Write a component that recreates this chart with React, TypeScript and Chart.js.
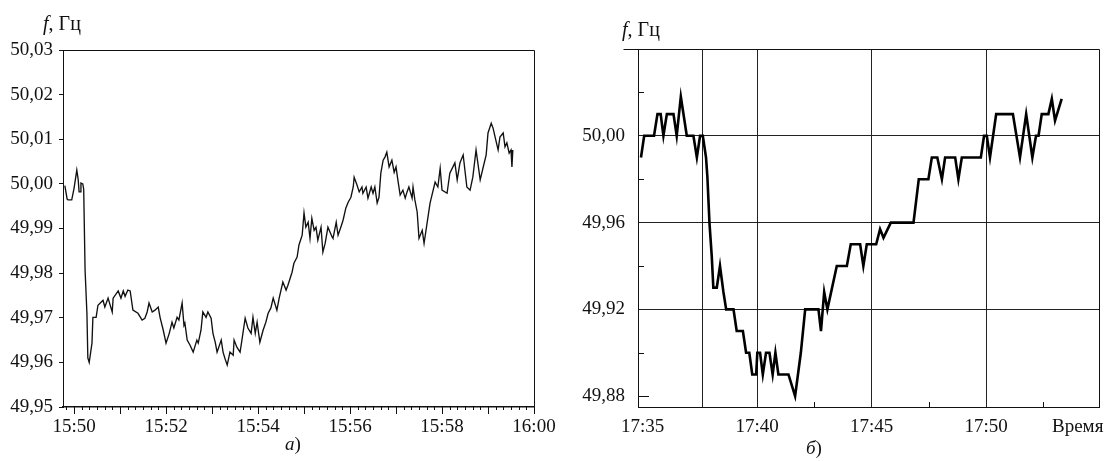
import React, { useEffect, useRef } from "react";
import { Chart, registerables } from "chart.js";

Chart.register(...registerables);

// ---------- Chart (а): minutes after 15:50, frequency in Hz ----------
const leftStartHour = 15;
const leftStartMinute = 50;
const leftTime = [
  -0.2, -0.15, -0.13, -0.05, 0.0, 0.06, 0.09, 0.11, 0.13, 0.15,
  0.19, 0.21, 0.24, 0.28, 0.3, 0.33, 0.39, 0.41, 0.48, 0.52,
  0.57, 0.63, 0.67, 0.74, 0.83, 0.85, 0.96, 1.02, 1.07, 1.11,
  1.17, 1.22, 1.28, 1.39, 1.48, 1.54, 1.59, 1.63, 1.7, 1.76,
  1.83, 1.87, 1.94, 2.0, 2.07, 2.13, 2.17, 2.24, 2.28, 2.35,
  2.39, 2.41, 2.46, 2.52, 2.59, 2.67, 2.7, 2.76, 2.8, 2.87,
  2.91, 2.98, 3.02, 3.07, 3.11, 3.2, 3.24, 3.28, 3.33, 3.39,
  3.46, 3.48, 3.54, 3.61, 3.65, 3.72, 3.78, 3.85, 3.89, 3.94,
  3.98, 4.04, 4.11, 4.17, 4.22, 4.28, 4.33, 4.41, 4.46, 4.54,
  4.61, 4.65, 4.74, 4.78, 4.85, 4.89, 4.96, 5.0, 5.04, 5.09,
  5.13, 5.17, 5.22, 5.26, 5.3, 5.37, 5.41, 5.46, 5.52, 5.61,
  5.63, 5.7, 5.74, 5.8, 5.85, 5.91, 5.96, 6.02, 6.07, 6.09,
  6.15, 6.2, 6.26, 6.28, 6.35, 6.39, 6.46, 6.5, 6.54, 6.59,
  6.63, 6.67, 6.72, 6.76, 6.8, 6.85, 6.91, 6.96, 7.0, 7.04,
  7.09, 7.15, 7.2, 7.24, 7.28, 7.35, 7.37, 7.41, 7.46, 7.5,
  7.57, 7.61, 7.63, 7.74, 7.85, 7.91, 7.96, 8.0, 8.11, 8.17,
  8.28, 8.33, 8.39, 8.46, 8.54, 8.61, 8.67, 8.74, 8.83, 8.89,
  8.96, 9.0, 9.07, 9.11, 9.17, 9.22, 9.26, 9.33, 9.37, 9.41,
  9.46, 9.5, 9.52, 9.54,
];
const leftFreq = [
  49.9996, 49.9966, 49.9964, 49.9964, 49.999, 50.0031, 50.001, 49.9982, 49.9982, 50.0002,
  50.0, 49.9988, 49.9807, 49.971, 49.961, 49.96, 49.9643, 49.9701, 49.9701, 49.9728,
  49.9733, 49.9739, 49.9724, 49.9744, 49.9713, 49.9744, 49.976, 49.9744, 49.976, 49.9748,
  49.9762, 49.976, 49.9717, 49.971, 49.9695, 49.9699, 49.9713, 49.9733, 49.9713, 49.9717,
  49.9724, 49.9701, 49.9672, 49.9643, 49.9665, 49.969, 49.9677, 49.9701, 49.9695, 49.9733,
  49.9683, 49.9688, 49.965, 49.9639, 49.9623, 49.965, 49.9643, 49.9672, 49.9713, 49.9701,
  49.9713, 49.9699, 49.9665, 49.9645, 49.9623, 49.965, 49.9623, 49.9609, 49.9594, 49.9623,
  49.9616, 49.965, 49.9634, 49.9623, 49.965, 49.9699, 49.9677, 49.9665, 49.9701, 49.9665,
  49.969, 49.9645, 49.9672, 49.969, 49.971, 49.9722, 49.9744, 49.9717, 49.9744, 49.978,
  49.9762, 49.9773, 49.9802, 49.9822, 49.9836, 49.9863, 49.9885, 49.9935, 49.9903, 49.9914,
  49.9878, 49.9923, 49.9896, 49.9903, 49.9874, 49.9903, 49.9847, 49.9867, 49.9903, 49.9881,
  49.9878, 49.9914, 49.9885, 49.9903, 49.9919, 49.9946, 49.9959, 49.997, 49.9993, 50.0015,
  49.9998, 49.9982, 49.9993, 49.9979, 49.9993, 49.9968, 49.9993, 49.9979, 49.9993, 49.9957,
  49.997, 50.0024, 50.0053, 50.006, 50.0071, 50.0038, 50.0053, 50.0026, 50.0038, 50.0009,
  49.9975, 49.9986, 49.9968, 49.9982, 49.9993, 49.9968, 49.9993, 49.9964, 49.9937, 49.9878,
  49.9896, 49.9867, 49.9867, 49.9957, 50.0004, 49.9993, 50.0035, 49.9986, 49.9979, 50.0024,
  50.0047, 50.0009, 50.0047, 50.0065, 49.9993, 49.9986, 50.0015, 50.0076, 50.0009, 50.0035,
  50.0065, 50.0114, 50.0136, 50.0125, 50.0098, 50.0076, 50.0105, 50.0114, 50.0083, 50.0092,
  50.0069, 50.0076, 50.0038, 50.0076,
];
const leftYTicks = [49.95, 49.96, 49.97, 49.98, 49.99, 50.0, 50.01, 50.02, 50.03];
const leftXLabelTicks = [0, 2, 4, 6, 8, 10];
const leftAxisMin = -0.24;
const leftAxisMax = 10;

// ---------- Chart (б): minutes after 17:00, frequency in Hz ----------
const rightHour = 17;
const rightTime = [
  34.93, 35.07, 35.5, 35.65, 35.79, 35.91, 36.06, 36.35, 36.49, 36.67,
  36.93, 37.22, 37.37, 37.51, 37.63, 37.77, 37.83, 37.92, 38.02, 38.09,
  38.24, 38.38, 38.53, 38.65, 38.97, 39.11, 39.38, 39.52, 39.66, 39.79,
  39.96, 40.01, 40.13, 40.25, 40.39, 40.54, 40.68, 40.8, 40.93, 41.37,
  41.66, 41.91, 42.1, 42.68, 42.79, 42.93, 43.07, 43.48, 43.92, 44.09,
  44.5, 44.64, 44.79, 45.2, 45.37, 45.52, 45.84, 46.83, 47.06, 47.48,
  47.63, 47.87, 48.07, 48.21, 48.65, 48.79, 48.94, 49.77, 49.91, 50.03,
  50.17, 50.44, 51.17, 51.48, 51.75, 52.02, 52.18, 52.29, 52.43, 52.72,
  52.87, 53.01, 53.3,
];
const rightFreq = [
  49.99, 50.0, 50.0, 50.01, 50.01, 50.0, 50.01, 50.01, 50.0, 50.018,
  50.0, 50.0, 49.99, 50.0, 50.0, 49.99, 49.981, 49.96, 49.9445, 49.93,
  49.93, 49.94, 49.928, 49.92, 49.92, 49.91, 49.91, 49.9, 49.9, 49.89,
  49.89, 49.9, 49.9, 49.89, 49.9, 49.9, 49.89, 49.9, 49.89, 49.89,
  49.88, 49.9, 49.92, 49.92, 49.91, 49.928, 49.92, 49.94, 49.94, 49.95,
  49.95, 49.94, 49.95, 49.95, 49.957, 49.953, 49.96, 49.96, 49.98, 49.98,
  49.99, 49.99, 49.98, 49.99, 49.99, 49.98, 49.99, 49.99, 50.0, 50.0,
  49.99, 50.01, 50.01, 49.99, 50.01, 49.99, 50.0, 50.0, 50.01, 50.01,
  50.017, 50.007, 50.017,
];
const rightYTicks = [49.88, 49.92, 49.96, 50.0, 50.04];
const rightYMinorTicks = [49.88, 49.9, 49.94, 49.98, 50.02];
const rightXTicks = [35, 40, 45, 50];
const rightXMinorTicks = [42.5, 47.5, 52.5];
const rightMarkerMinute = 37.6;
const rightAxisWord = "Время";
const rightWordMinute = 54;
const rightAxisMin = 34.8;
const rightAxisMax = 54.93;
const rightYMin = 49.875;
const rightYMax = 50.04;

const FONT = "'Liberation Serif', 'Times New Roman', serif";
const comma = (v: number) => v.toFixed(2).replace(".", ",");
const pad2 = (n: number) => (n < 10 ? "0" + n : "" + n);

const leftTimeLabel = (m: number) => {
  const total = leftStartHour * 60 + leftStartMinute + Math.round(m);
  return Math.floor(total / 60) + ":" + pad2(total % 60);
};

const crisp = (v: number) => Math.round(v) + 0.5;

const leftFramePlugin = {
  id: "leftFrame",
  afterDraw(chart: any) {
    const { ctx, chartArea } = chart;
    const xs = chart.scales.x;
    ctx.save();
    ctx.strokeStyle = "#111";
    ctx.lineWidth = 1;
    ctx.beginPath();
    ctx.moveTo(crisp(chartArea.left), crisp(chartArea.top));
    ctx.lineTo(crisp(chartArea.right), crisp(chartArea.top));
    ctx.lineTo(crisp(chartArea.right), crisp(chartArea.bottom));
    ctx.stroke();
    // minute and 10-second tick marks
    ctx.beginPath();
    for (let s = -10; s <= 600; s += 10) {
      const px = xs.getPixelForValue(s / 60);
      if (px < chartArea.left - 0.5 || px > chartArea.right + 0.5) continue;
      const len = s % 60 === 0 ? 7 : 3;
      ctx.moveTo(crisp(px), chartArea.bottom);
      ctx.lineTo(crisp(px), chartArea.bottom + len);
    }
    ctx.stroke();
    ctx.restore();
  },
};

const rightFramePlugin = {
  id: "rightFrame",
  afterDraw(chart: any) {
    const { ctx, chartArea } = chart;
    const xs = chart.scales.x;
    const ys = chart.scales.y;
    ctx.save();
    ctx.strokeStyle = "#111";
    ctx.lineWidth = 1;
    ctx.beginPath();
    ctx.moveTo(crisp(chartArea.left) - 15, crisp(chartArea.top));
    ctx.lineTo(crisp(chartArea.right), crisp(chartArea.top));
    ctx.lineTo(crisp(chartArea.right), crisp(chartArea.bottom));
    ctx.stroke();
    ctx.beginPath();
    rightYMinorTicks.forEach((v) => {
      const py = ys.getPixelForValue(v);
      const len = Math.abs(v - 49.88) < 1e-6 ? 11 : 6;
      ctx.moveTo(chartArea.left, crisp(py));
      ctx.lineTo(chartArea.left + len, crisp(py));
    });
    rightXMinorTicks.forEach((v) => {
      const px = xs.getPixelForValue(v);
      ctx.moveTo(crisp(px), chartArea.bottom);
      ctx.lineTo(crisp(px), chartArea.bottom - 5);
    });
    ctx.stroke();
    ctx.restore();
  },
};

const LEFT_W = 575;
const LEFT_RIGHT_EDGE = 534;

function LeftChart() {
  const ref = useRef<HTMLCanvasElement | null>(null);
  useEffect(() => {
    if (!ref.current) return;
    const chart = new Chart(ref.current, {
      type: "line",
      data: {
        datasets: [
          {
            data: leftTime.map((t, i) => ({ x: t, y: leftFreq[i] })),
            borderColor: "#111",
            borderWidth: 1.35,
            pointRadius: 0,
            tension: 0,
            fill: false,
          },
        ],
      },
      options: {
        animation: false,
        responsive: false,
        events: [],
        layout: { padding: { top: 50, right: LEFT_W - LEFT_RIGHT_EDGE, left: 0, bottom: 0 } },
        plugins: { legend: { display: false }, tooltip: { enabled: false } },
        scales: {
          x: {
            type: "linear",
            min: leftAxisMin,
            max: leftAxisMax,
            afterBuildTicks: (s: any) => {
              s.ticks = leftXLabelTicks.map((v) => ({ value: v }));
            },
            afterFit: (s: any) => {
              s.height = 54;
              s.paddingLeft = 0;
              s.paddingRight = 0;
            },
            grid: { display: false, drawTicks: false },
            border: { display: true, color: "#111", width: 1.5 },
            ticks: {
              padding: 9,
              color: "#111",
              maxRotation: 0,
              autoSkip: false,
              font: { family: FONT, size: 19 },
              callback: (v: any) => leftTimeLabel(Number(v)),
            },
          },
          y: {
            type: "linear",
            min: leftYTicks[0],
            max: leftYTicks[leftYTicks.length - 1],
            afterBuildTicks: (s: any) => {
              s.ticks = leftYTicks.map((v) => ({ value: v }));
            },
            afterFit: (s: any) => {
              s.width = 63;
              s.paddingTop = 0;
              s.paddingBottom = 0;
            },
            grid: { drawOnChartArea: false, tickLength: 4, color: "#111" },
            border: { display: true, color: "#111", width: 1 },
            ticks: {
              padding: 6,
              color: "#111",
              font: { family: FONT, size: 19 },
              callback: (v: any) => comma(Number(v)),
            },
          },
        },
      },
      plugins: [leftFramePlugin],
    } as any);
    return () => chart.destroy();
  }, []);
  return <canvas ref={ref} width={LEFT_W} height={461} style={{ display: "block" }} />;
}

function RightChart() {
  const ref = useRef<HTMLCanvasElement | null>(null);
  useEffect(() => {
    if (!ref.current) return;
    const isGridX = (v: number) =>
      Math.abs(v - rightMarkerMinute) < 1e-6 || (v > 36 && v < 51);
    const chart = new Chart(ref.current, {
      type: "line",
      data: {
        datasets: [
          {
            data: rightTime.map((t, i) => ({ x: t, y: rightFreq[i] })),
            borderColor: "#000",
            borderWidth: 2.6,
            pointRadius: 0,
            tension: 0,
            fill: false,
          },
        ],
      },
      options: {
        animation: false,
        responsive: false,
        events: [],
        layout: { padding: { top: 49, right: 7, left: 0, bottom: 0 } },
        plugins: { legend: { display: false }, tooltip: { enabled: false } },
        scales: {
          x: {
            type: "linear",
            min: rightAxisMin,
            max: rightAxisMax,
            afterBuildTicks: (s: any) => {
              s.ticks = [
                rightXTicks[0],
                rightMarkerMinute,
                ...rightXTicks.slice(1),
                rightWordMinute,
              ].map((v) => ({ value: v }));
            },
            afterFit: (s: any) => {
              s.height = 54;
              s.paddingLeft = 0;
              s.paddingRight = 0;
            },
            grid: {
              drawTicks: false,
              lineWidth: 1,
              color: (ctx: any) =>
                ctx.tick && isGridX(ctx.tick.value) ? "#222" : "rgba(0,0,0,0)",
            },
            border: { display: true, color: "#111", width: 1 },
            ticks: {
              padding: 9,
              color: "#111",
              maxRotation: 0,
              autoSkip: false,
              font: { family: FONT, size: 19 },
              callback: (v: any) => {
                const n = Number(v);
                if (Math.abs(n - rightWordMinute) < 1e-6) return rightAxisWord;
                if (rightXTicks.indexOf(n) >= 0) return rightHour + ":" + pad2(n);
                return "";
              },
            },
          },
          y: {
            type: "linear",
            min: rightYMin,
            max: rightYMax,
            afterBuildTicks: (s: any) => {
              s.ticks = rightYTicks.map((v) => ({ value: v }));
            },
            afterFit: (s: any) => {
              s.width = 93;
              s.paddingTop = 0;
              s.paddingBottom = 0;
            },
            grid: {
              drawTicks: false,
              lineWidth: 1,
              color: (ctx: any) =>
                ctx.tick && Math.abs(ctx.tick.value - rightYTicks[0]) < 1e-6
                  ? "rgba(0,0,0,0)"
                  : "#222",
            },
            border: { display: true, color: "#111", width: 1 },
            ticks: {
              padding: 13,
              color: "#111",
              font: { family: FONT, size: 19 },
              callback: (v: any) => {
                const n = Number(v);
                return n > 50.035 ? "" : comma(n);
              },
            },
          },
        },
      },
      plugins: [rightFramePlugin],
    } as any);
    return () => chart.destroy();
  }, []);
  return <canvas ref={ref} width={561} height={461} style={{ display: "block" }} />;
}

const textStyle: React.CSSProperties = {
  position: "absolute",
  fontFamily: FONT,
  color: "#111",
  whiteSpace: "nowrap",
  lineHeight: 1,
};

export default function App() {
  return (
    <div
      style={{
        position: "absolute",
        left: 0,
        top: 0,
        width: 1106,
        height: 461,
        background: "#fff",
        overflow: "hidden",
      }}
    >
      <div style={{ position: "absolute", left: 545, top: 0 }}>
        <RightChart />
      </div>
      <div style={{ position: "absolute", left: 0, top: 0, pointerEvents: "none" }}>
        <LeftChart />
      </div>
      <div style={{ ...textStyle, left: 43, top: 13, fontSize: 20 }}>
        <i>f</i>, Гц
      </div>
      <div style={{ ...textStyle, left: 622, top: 19, fontSize: 20 }}>
        <i>f</i>, Гц
      </div>
      <div style={{ ...textStyle, left: 285, top: 434, fontSize: 19 }}>
        <i>а</i>)
      </div>
      <div style={{ ...textStyle, left: 806, top: 438, fontSize: 19 }}>
        <i>б</i>)
      </div>
    </div>
  );
}
